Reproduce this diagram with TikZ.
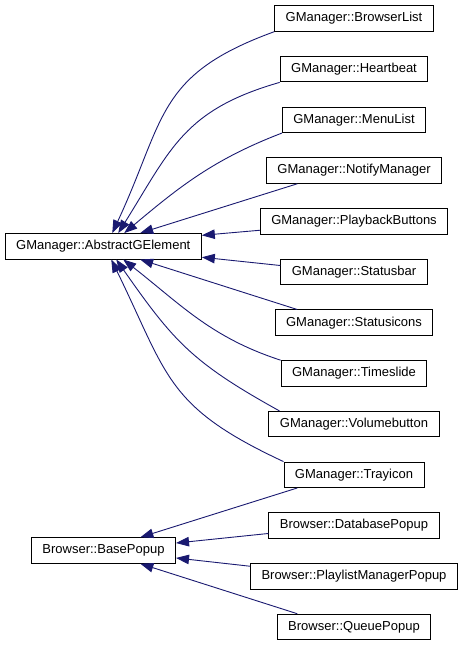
\documentclass[tikz,border=0pt]{standalone}
\usepackage{fontspec}
\setmainfont{Liberation Sans}
\usetikzlibrary{positioning, arrows.meta}
\definecolor{edgeblue}{HTML}{191970}

\begin{document}
\begin{tikzpicture}[
    x=1bp, y=1bp,
    node distance=24.3bp,
    cls/.style={rectangle, draw=black, line width=0.9bp, fill=white,
                minimum height=25.5bp, inner xsep=11bp,
                text height=9.5bp, text depth=2.8bp,
                font=\fontsize{13bp}{15bp}\selectfont},
    arr/.style={{Triangle[length=13bp, width=9.5bp]}-, draw=edgeblue, line width=0.9bp}
]
\useasboundingbox (0,0) rectangle (464,645);

% base classes
\node[cls] (abs) at (103.3,398.7) {GManager::AbstractGElement};
\node[cls] (base) at (103.5,94.5) {Browser::BasePopup};

% derived classes
\node[cls] (browser) at (354,626.5) {GManager::BrowserList};
\node[cls, below=of browser] (heart) {GManager::Heartbeat};
\node[cls, below=of heart] (menu) {GManager::MenuList};
\node[cls, below=of menu] (notify) {GManager::NotifyManager};
\node[cls, below=of notify] (play) {GManager::PlaybackButtons};
\node[cls, below=of play] (statusbar) {GManager::Statusbar};
\node[cls, below=of statusbar] (statusicons) {GManager::Statusicons};
\node[cls, below=of statusicons] (timeslide) {GManager::Timeslide};
\node[cls, below=of timeslide] (volume) {GManager::Volumebutton};
\node[cls, below=of volume] (tray) {GManager::Trayicon};
\node[cls, below=of tray] (db) {Browser::DatabasePopup};
\node[cls, below=of db] (playlist) {Browser::PlaylistManagerPopup};
\node[cls, below=of playlist] (queue) {Browser::QueuePopup};

% inheritance edges
\draw[arr] ([xshift=9]abs.north) to[out=65, in=200, looseness=1.25] (browser.south west);
\draw[arr] ([xshift=15]abs.north) to[out=58, in=196, looseness=1.15] (heart.south west);
\draw[arr] ([xshift=21]abs.north) to[out=40, in=201] (menu.south west);
\draw[arr] ([xshift=37]abs.north) -- ([xshift=-57]notify.south);
\draw[arr] ([yshift=11]abs.east) -- ([yshift=-9]play.west);
\draw[arr] ([yshift=-11]abs.east) -- ([yshift=6.5]statusbar.west);
\draw[arr] ([xshift=37]abs.south) -- ([xshift=-57]statusicons.north);
\draw[arr] ([xshift=20]abs.south) to[out=-38, in=162] (timeslide.north west);
\draw[arr] ([xshift=13]abs.south) to[out=-55, in=151, looseness=1.15] ([xshift=11]volume.north west);
\draw[arr] ([xshift=8]abs.south) to[out=-64, in=155, looseness=1.25] (tray.north west);

\draw[arr] ([xshift=37]base.north) -- ([xshift=-57]tray.south);
\draw[arr] ([yshift=7.5]base.east) -- ([yshift=-8]db.west);
\draw[arr] ([yshift=-7.5]base.east) -- ([yshift=10]playlist.west);
\draw[arr] ([xshift=37]base.south) -- ([xshift=-57]queue.north);
\end{tikzpicture}
\end{document}
